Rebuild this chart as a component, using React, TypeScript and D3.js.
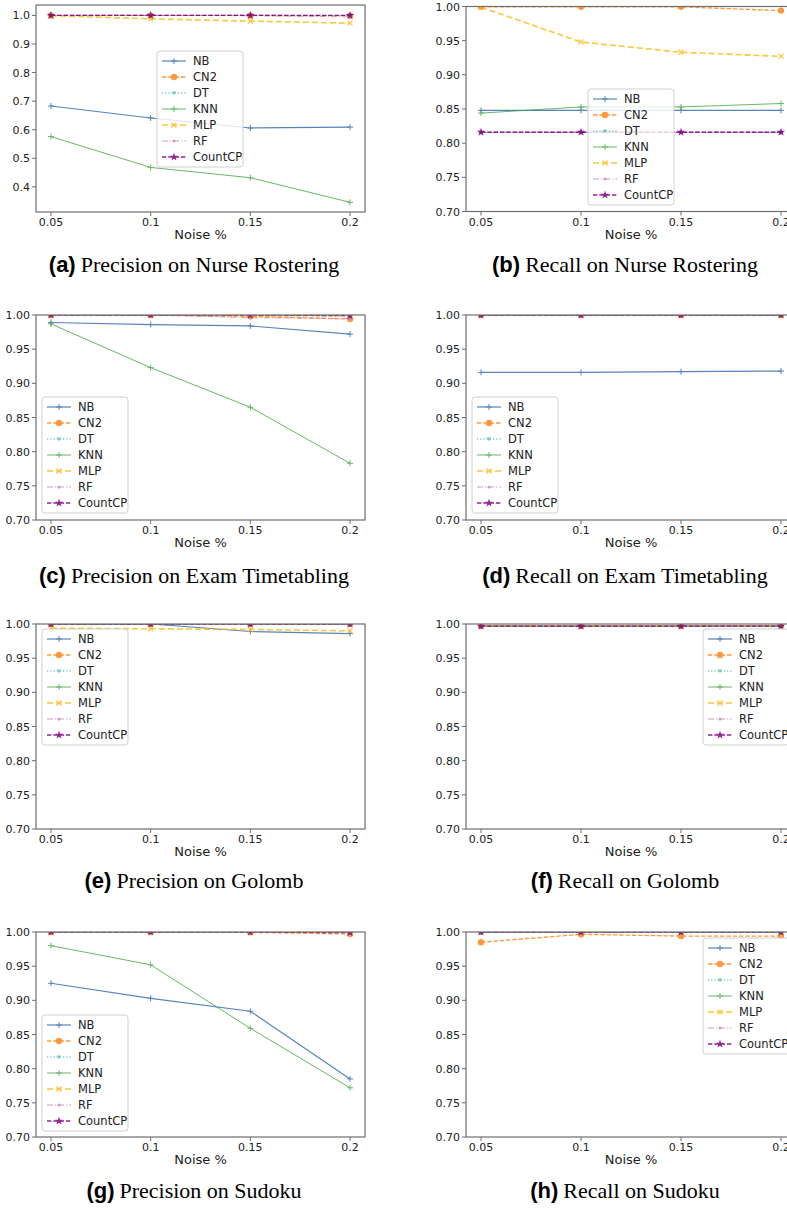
import React from "react";
import * as d3 from "d3";

// ---------- data ----------
const noise = [0.05, 0.1, 0.15, 0.2];
const noiseLabels = ["0.05", "0.1", "0.15", "0.2"];
const methods = ["NB", "CN2", "DT", "KNN", "MLP", "RF", "CountCP"];

const yTicksWide = [0.4, 0.5, 0.6, 0.7, 0.8, 0.9, 1.0];
const yTicksNarrow = [0.7, 0.75, 0.8, 0.85, 0.9, 0.95, 1.0];

// rows: NB, CN2, DT, KNN, MLP, RF, CountCP
const precisionNurse = [
  [0.683, 0.641, 0.606, 0.609],
  [1.0, 1.0, 1.0, 0.999],
  [1.0, 1.0, 1.0, 1.0],
  [0.576, 0.468, 0.432, 0.346],
  [0.999, 0.988, 0.98, 0.973],
  [1.0, 1.0, 0.999, 0.995],
  [1.0, 1.0, 1.0, 1.0],
];
const recallNurse = [
  [0.848, 0.848, 0.848, 0.848],
  [0.9995, 0.9995, 0.9995, 0.994],
  [0.816, 0.816, 0.816, 0.816],
  [0.844, 0.853, 0.853, 0.858],
  [0.999, 0.948, 0.933, 0.927],
  [0.816, 0.816, 0.816, 0.816],
  [0.816, 0.816, 0.816, 0.816],
];
const precisionExam = [
  [0.989, 0.986, 0.984, 0.972],
  [1.0, 1.0, 0.998, 0.994],
  [1.0, 1.0, 1.0, 1.0],
  [0.987, 0.923, 0.865, 0.783],
  [1.0, 1.0, 0.999, 0.999],
  [1.0, 1.0, 0.996, 0.995],
  [1.0, 1.0, 1.0, 0.999],
];
const recallExam = [
  [0.916, 0.916, 0.917, 0.918],
  [1.0, 1.0, 1.0, 1.0],
  [1.0, 1.0, 1.0, 1.0],
  [1.0, 1.0, 1.0, 1.0],
  [1.0, 1.0, 1.0, 1.0],
  [1.0, 1.0, 1.0, 1.0],
  [1.0, 1.0, 1.0, 1.0],
];
const precisionGolomb = [
  [1.0, 1.0, 0.989, 0.986],
  [1.0, 1.0, 1.0, 1.0],
  [1.0, 1.0, 1.0, 1.0],
  [1.0, 1.0, 1.0, 1.0],
  [0.994, 0.993, 0.992, 0.99],
  [1.0, 1.0, 1.0, 1.0],
  [1.0, 1.0, 1.0, 1.0],
];
const recallGolomb = [
  [0.997, 0.997, 0.997, 0.997],
  [0.997, 0.997, 0.997, 0.997],
  [0.997, 0.997, 0.997, 0.997],
  [0.997, 0.997, 0.997, 0.997],
  [0.997, 0.997, 0.997, 0.997],
  [0.997, 0.997, 0.997, 0.997],
  [0.997, 0.997, 0.997, 0.997],
];
const precisionSudoku = [
  [0.925, 0.903, 0.884, 0.785],
  [1.0, 1.0, 0.9995, 0.997],
  [1.0, 1.0, 1.0, 1.0],
  [0.98, 0.952, 0.859, 0.772],
  [1.0, 1.0, 1.0, 1.0],
  [1.0, 1.0, 1.0, 1.0],
  [1.0, 1.0, 1.0, 0.999],
];
const recallSudoku = [
  [1.0, 1.0, 1.0, 1.0],
  [0.985, 0.9966, 0.994, 0.994],
  [1.0, 1.0, 1.0, 1.0],
  [1.0, 1.0, 1.0, 1.0],
  [1.0, 1.0, 1.0, 1.0],
  [1.0, 1.0, 1.0, 1.0],
  [1.0, 1.0, 1.0, 1.0],
];

// ---------- styles ----------
type Style = { color: string; dash: string | null; width: number; marker: string; opacity: number };
const styles: Record<string, Style> = {
  NB: { color: "#3a6fb2", dash: null, width: 1.2, marker: "plus", opacity: 0.85 },
  CN2: { color: "#ff7f0e", dash: "4.4,1.9", width: 1.3, marker: "circle", opacity: 0.8 },
  DT: { color: "#3fb5a8", dash: "1.2,2", width: 1.3, marker: "tri", opacity: 0.7 },
  KNN: { color: "#3a9f3a", dash: null, width: 1.0, marker: "plus", opacity: 0.75 },
  MLP: { color: "#f7bb10", dash: "6,3", width: 1.6, marker: "x", opacity: 0.8 },
  RF: { color: "#c27bb5", dash: "6,2,1.2,2", width: 1.0, marker: "dot", opacity: 0.75 },
  CountCP: { color: "#800080", dash: "4.4,1.9", width: 1.3, marker: "star", opacity: 0.85 },
};

const FONT = "DejaVu Sans, Verdana, sans-serif";

function Marker({ kind, x, y, color }: { kind: string; x: number; y: number; color: string }) {
  const t = `translate(${x},${y})`;
  if (kind === "plus")
    return <path transform={t} d="M-3,0L3,0M0,-3L0,3" stroke={color} strokeWidth={1} fill="none" />;
  if (kind === "x")
    return <path transform={t} d="M-2.5,-2.5L2.5,2.5M-2.5,2.5L2.5,-2.5" stroke={color} strokeWidth={1.2} fill="none" />;
  if (kind === "circle") return <circle cx={x} cy={y} r={3.2} fill={color} />;
  if (kind === "dot") return <circle cx={x} cy={y} r={1.6} fill={color} />;
  if (kind === "tri") return <path transform={t} d="M-2.2,-1.6L2.2,-1.6L0,2.2Z" fill={color} />;
  if (kind === "star")
    return <path transform={t} d={d3.symbol().type(d3.symbolStar).size(22)() || ""} fill={color} />;
  return null;
}

type Panel = {
  data: number[][];
  col: number;
  row: number;
  top?: number;
  height?: number;
  yDomain: [number, number];
  yTicks: number[];
  yFmt: (v: number) => string;
  legend: [number, number];
  letter: string;
  title: string;
};

const colX = [
  { x0: 36, x1: 365 },
  { x0: 466, x1: 796 },
];
const rowTop = [6.5, 315, 624, 932];
const rowH = 205;
const captionY = [272, 583, 888, 1198];
const captionX = [194, 625];

const fmt2 = d3.format(".2f");
const fmt1 = d3.format(".1f");

const panels: Panel[] = [
  { data: precisionNurse, col: 0, row: 0, top: 5, height: 207, yDomain: [0.312, 1.0365], yTicks: yTicksWide, yFmt: fmt1, legend: [157, 51], letter: "(a)", title: "Precision on Nurse Rostering" },
  { data: recallNurse, col: 1, row: 0, yDomain: [0.7, 1.0], yTicks: yTicksNarrow, yFmt: fmt2, legend: [588, 89], letter: "(b)", title: "Recall on Nurse Rostering" },
  { data: precisionExam, col: 0, row: 1, yDomain: [0.7, 1.0], yTicks: yTicksNarrow, yFmt: fmt2, legend: [42, 397], letter: "(c)", title: "Precision on Exam Timetabling" },
  { data: recallExam, col: 1, row: 1, yDomain: [0.7, 1.0], yTicks: yTicksNarrow, yFmt: fmt2, legend: [472, 397], letter: "(d)", title: "Recall on Exam Timetabling" },
  { data: precisionGolomb, col: 0, row: 2, yDomain: [0.7, 1.0], yTicks: yTicksNarrow, yFmt: fmt2, legend: [42, 629], letter: "(e)", title: "Precision on Golomb" },
  { data: recallGolomb, col: 1, row: 2, yDomain: [0.7, 1.0], yTicks: yTicksNarrow, yFmt: fmt2, legend: [703, 629], letter: "(f)", title: "Recall on Golomb" },
  { data: precisionSudoku, col: 0, row: 3, yDomain: [0.7, 1.0], yTicks: yTicksNarrow, yFmt: fmt2, legend: [42, 1015], letter: "(g)", title: "Precision on Sudoku" },
  { data: recallSudoku, col: 1, row: 3, yDomain: [0.7, 1.0], yTicks: yTicksNarrow, yFmt: fmt2, legend: [703, 938], letter: "(h)", title: "Recall on Sudoku" },
];

function PanelView({ p, idx }: { p: Panel; idx: number }) {
  const { x0, x1 } = colX[p.col];
  const top = p.top ?? rowTop[p.row];
  const h = p.height ?? rowH;
  const bottom = top + h;
  const x = d3.scaleLinear().domain([0.0425, 0.2075]).range([x0, x1]);
  const y = d3.scaleLinear().domain(p.yDomain).range([bottom, top]);
  const line = d3
    .line<number>()
    .x((_, i) => x(noise[i]))
    .y((v) => y(v));
  const clipId = `clip${idx}`;
  const axisColor = "#6e6e6e";
  const [lx, ly] = p.legend;
  return (
    <g>
      <defs>
        <clipPath id={clipId}>
          <rect x={x0} y={top} width={x1 - x0} height={h} />
        </clipPath>
      </defs>
      <g clipPath={`url(#${clipId})`}>
        {methods.map((m, mi) => {
          const s = styles[m];
          return (
            <g key={m} opacity={s.opacity}>
              <path
                d={line(p.data[mi]) || ""}
                fill="none"
                stroke={s.color}
                strokeWidth={s.width}
                strokeDasharray={s.dash || undefined}
              />
              {p.data[mi].map((v, i) => (
                <Marker key={i} kind={s.marker} x={x(noise[i])} y={y(v)} color={s.color} />
              ))}
            </g>
          );
        })}
      </g>
      {/* frame */}
      <rect x={x0} y={top} width={x1 - x0} height={h} fill="none" stroke={axisColor} strokeWidth={1.2} />
      {/* x ticks */}
      {noise.map((v, i) => (
        <g key={i}>
          <line x1={x(v)} x2={x(v)} y1={bottom} y2={bottom + 4} stroke={axisColor} strokeWidth={1} />
          <text x={x(v)} y={bottom + 14} textAnchor="middle" fontFamily={FONT} fontSize={11} fill="#222">
            {noiseLabels[i]}
          </text>
        </g>
      ))}
      {/* y ticks */}
      {p.yTicks.map((v, i) => (
        <g key={i}>
          <line x1={x0 - 4} x2={x0} y1={y(v)} y2={y(v)} stroke={axisColor} strokeWidth={1} />
          <text x={x0 - 6} y={y(v) + 4} textAnchor="end" fontFamily={FONT} fontSize={11} fill="#222">
            {p.yFmt(v)}
          </text>
        </g>
      ))}
      <text x={(x0 + x1) / 2} y={bottom + 27} textAnchor="middle" fontFamily={FONT} fontSize={13} fill="#222">
        Noise %
      </text>
      {/* legend */}
      <g>
        <rect x={lx} y={ly} width={86} height={116} rx={3} fill="#fff" fillOpacity={0.8} stroke="#d0d0d0" strokeWidth={1} />
        {methods.map((m, i) => {
          const s = styles[m];
          const yy = ly + 10 + i * 16;
          return (
            <g key={m}>
              <g opacity={s.opacity}>
                <line
                  x1={lx + 5}
                  x2={lx + 29}
                  y1={yy}
                  y2={yy}
                  stroke={s.color}
                  strokeWidth={s.width}
                  strokeDasharray={s.dash || undefined}
                />
                <Marker kind={s.marker} x={lx + 17} y={yy} color={s.color} />
              </g>
              <text x={lx + 36} y={yy + 4} fontFamily={FONT} fontSize={11.5} fill="#222">
                {m}
              </text>
            </g>
          );
        })}
      </g>
      {/* caption */}
      <text x={captionX[p.col]} y={captionY[p.row]} textAnchor="middle" fontSize={22} fill="#000">
        <tspan fontFamily="Liberation Sans, Arial, sans-serif" fontWeight="bold">
          {p.letter}
        </tspan>
        <tspan fontFamily="Liberation Serif, Times New Roman, serif" dx={5}>
          {p.title}
        </tspan>
      </text>
    </g>
  );
}

export default function App() {
  return (
    <svg
      width={787}
      height={1209}
      viewBox="0 0 787 1209"
      style={{ position: "absolute", left: 0, top: 0, background: "#fff" }}
    >
      <rect width={787} height={1209} fill="#fff" />
      {panels.map((p, i) => (
        <PanelView key={i} p={p} idx={i} />
      ))}
    </svg>
  );
}
